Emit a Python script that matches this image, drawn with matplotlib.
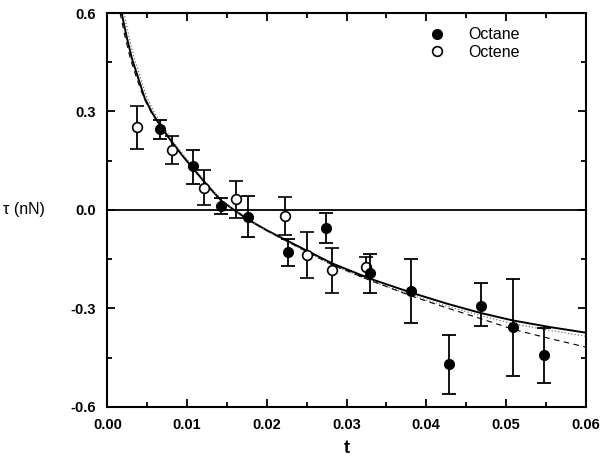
import numpy as np
import matplotlib
matplotlib.use('Agg')
import matplotlib.pyplot as plt
from matplotlib.lines import Line2D
from matplotlib.ticker import MultipleLocator, FormatStrFormatter

plt.rcParams['font.family'] = ['Liberation Sans', 'DejaVu Sans']

# octane (filled circles)
octane_t = [0.00661, 0.01079, 0.01430, 0.01769, 0.02271, 0.02748, 0.0330, 0.0381, 0.0428, 0.0469, 0.0509, 0.0548]
octane_tau = [0.248, 0.133, 0.013, -0.021, -0.128, -0.056, -0.193, -0.248, -0.469, -0.292, -0.358, -0.443]
octane_hi = [0.275, 0.184, 0.036, 0.041, -0.088, -0.008, -0.134, -0.150, -0.380, -0.224, -0.212, -0.360]
octane_lo = [0.217, 0.080, -0.011, -0.083, -0.170, -0.100, -0.252, -0.344, -0.562, -0.355, -0.505, -0.528]

# octene (open circles)
octene_t = [0.00376, 0.00808, 0.01213, 0.01615, 0.02226, 0.02509, 0.02816, 0.03242]
octene_tau = [0.254, 0.184, 0.068, 0.033, -0.018, -0.136, -0.182, -0.173]
octene_hi = [0.318, 0.226, 0.122, 0.087, 0.039, -0.068, -0.115, -0.144]
octene_lo = [0.187, 0.141, 0.015, -0.025, -0.077, -0.207, -0.253, -0.200]

# fit curves
fit_t = [0.0018, 0.0024, 0.0031, 0.0039, 0.0047, 0.0056, 0.0066, 0.0080, 0.0095, 0.0108, 0.0125,
         0.0143, 0.0160, 0.0179, 0.0200, 0.0225, 0.0250, 0.0282, 0.0330, 0.0381, 0.0425, 0.0468,
         0.0509, 0.0555, 0.0600]
fit_tau = [0.600, 0.530, 0.460, 0.400, 0.340, 0.297, 0.258, 0.210, 0.163, 0.125, 0.076,
           0.028, -0.002, -0.033, -0.062, -0.093, -0.124, -0.163, -0.210, -0.252, -0.285, -0.314,
           -0.337, -0.357, -0.374]

dot_t = [0.0021, 0.0027, 0.0034, 0.0042, 0.0050, 0.0059, 0.0069, 0.0082, 0.0097, 0.0110, 0.0126,
         0.0144, 0.0160, 0.0179, 0.0200, 0.0225, 0.0250, 0.0282, 0.0330, 0.0381, 0.0425, 0.0468,
         0.0509, 0.0555, 0.0600]
dot_tau = [0.600, 0.530, 0.460, 0.400, 0.340, 0.297, 0.258, 0.210, 0.163, 0.125, 0.076,
           0.028, -0.002, -0.034, -0.064, -0.096, -0.128, -0.168, -0.216, -0.260, -0.293, -0.322,
           -0.347, -0.367, -0.385]

dash_t = [0.0016, 0.0022, 0.0029, 0.0037, 0.0046, 0.0055, 0.0066, 0.0080, 0.0095, 0.0108, 0.0125,
          0.0143, 0.0160, 0.0179, 0.0200, 0.0225, 0.0250, 0.0282, 0.0330, 0.0381, 0.0425, 0.0468,
          0.0509, 0.0555, 0.0600]
dash_tau = [0.600, 0.530, 0.460, 0.400, 0.340, 0.297, 0.258, 0.210, 0.163, 0.125, 0.076,
            0.028, -0.002, -0.033, -0.063, -0.095, -0.127, -0.167, -0.215, -0.262, -0.298, -0.331,
            -0.364, -0.392, -0.418]

fig = plt.figure(figsize=(6.15, 4.66), dpi=100)
ax = fig.add_axes([0.1745, 0.127, 0.778, 0.845])

ax.axhline(0, color='k', lw=1.3, zorder=1)
ax.plot(fit_t, fit_tau, color='k', lw=1.4, zorder=2)
ax.plot(dot_t, dot_tau, color='0.45', lw=0.9, ls=':', zorder=2)
ax.plot(dash_t, dash_tau, color='k', lw=0.8, ls=(0, (5, 4)), zorder=2)

err_octane = [np.array(octane_tau) - np.array(octane_lo), np.array(octane_hi) - np.array(octane_tau)]
err_octene = [np.array(octene_tau) - np.array(octene_lo), np.array(octene_hi) - np.array(octene_tau)]

ax.errorbar(octane_t, octane_tau, yerr=err_octane, fmt='o', color='k', mfc='k', mec='k',
            ms=7, elinewidth=1.3, capsize=5, capthick=1.3, zorder=4)
ax.errorbar(octene_t, octene_tau, yerr=err_octene, fmt='o', color='k', mfc='white', mec='k',
            ms=7, mew=1.2, elinewidth=1.3, capsize=5, capthick=1.3, zorder=3)

ax.set_xlim(0, 0.06)
ax.set_ylim(-0.6, 0.6)
ax.xaxis.set_major_locator(MultipleLocator(0.01))
ax.xaxis.set_minor_locator(MultipleLocator(0.005))
ax.yaxis.set_major_locator(MultipleLocator(0.3))
ax.yaxis.set_minor_locator(MultipleLocator(0.15))
ax.xaxis.set_major_formatter(FormatStrFormatter('%.2f'))
ax.yaxis.set_major_formatter(FormatStrFormatter('%.1f'))
ax.tick_params(which='both', direction='in', top=True, right=True, width=1.3)
ax.tick_params(which='major', length=6, labelsize=10.5)
ax.tick_params(which='minor', length=3.5)
ax.tick_params(axis='x', which='major', pad=8)
ax.tick_params(axis='y', which='major', pad=8)
for lbl in ax.get_xticklabels() + ax.get_yticklabels():
    lbl.set_fontweight('bold')
for sp in ax.spines.values():
    sp.set_linewidth(1.5)

ax.set_xlabel('t', fontsize=13, fontweight='bold', labelpad=6)
ax.set_ylabel('τ (nN)', fontsize=11.5, rotation=0, ha='right', va='center')
ax.yaxis.set_label_coords(-0.13, 0.5)

handles = [Line2D([], [], ls='none', marker='o', ms=7, mfc='k', mec='k'),
           Line2D([], [], ls='none', marker='o', ms=7, mfc='white', mec='k', mew=1.2)]
ax.legend(handles, ['Octane', 'Octene'], loc='upper left', bbox_to_anchor=(0.64, 1.0),
          frameon=False, fontsize=11.5, handlelength=1.2, handletextpad=1.3, labelspacing=0.15)

fig.savefig('out.png', dpi=100)
